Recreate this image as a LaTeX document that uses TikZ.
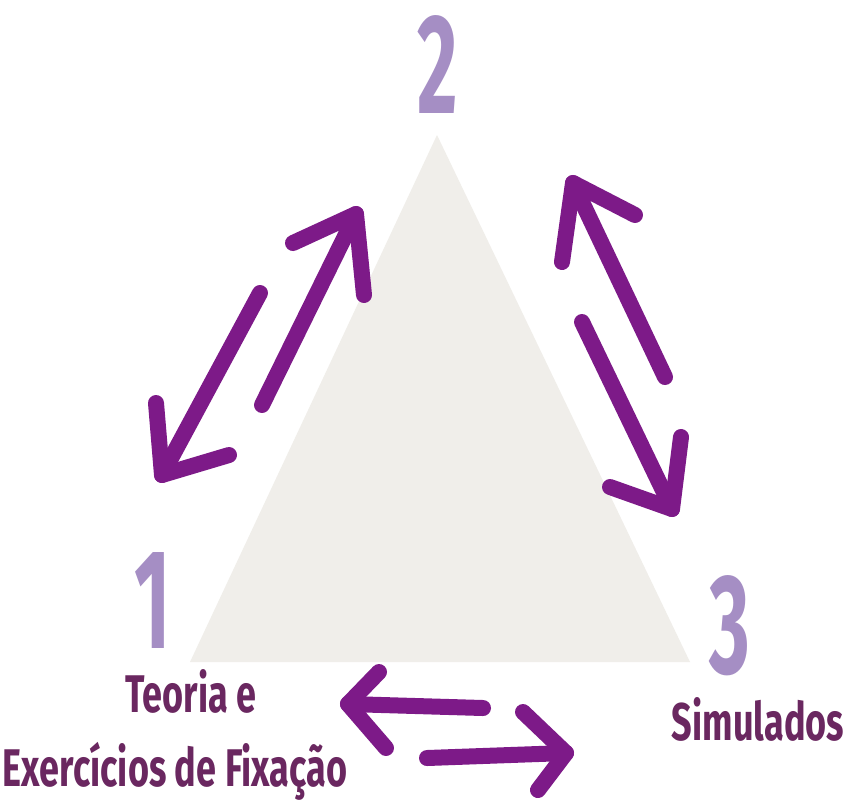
\documentclass[tikz,border=0pt]{standalone}
\usepackage{fontspec}
\newfontfamily\condfont[FakeStretch=0.68]{Fira Sans}
\newfontfamily\digfont[FakeStretch=0.55]{Fira Sans}
\definecolor{tri}{HTML}{F0EEEA}
\definecolor{dig}{HTML}{A58EC4}
\definecolor{lbl}{HTML}{6A2760}
\definecolor{arr}{HTML}{7D1A88}
\tikzset{
  digit/.style={inner sep=0pt, text=dig, font=\digfont\bfseries\fontsize{142}{142}\selectfont},
  label/.style={inner sep=0pt, anchor=base, text=lbl, font=\condfont\bfseries\fontsize{53}{53}\selectfont},
  arrline/.style={draw=arr, line width=16pt, line cap=round, line join=round}
}
\begin{document}
\begin{tikzpicture}[x=1pt,y=-1pt]
\useasboundingbox (0,0) rectangle (850,801);
\fill[white] (0,0) rectangle (850,801);
% triangle
\coordinate (apex) at (437,135);
\coordinate (bl) at (190,662);
\coordinate (br) at (690,662);
\fill[tri] (apex) -- (bl) -- (br) -- cycle;
% digits
\node[digit] (d2) at (438,65) {2};
\node[digit] (d1) at (153,600) {1};
\node[digit] (d3) at (730,626) {3};
% labels
\node[label] (t1) at (191,712) {Teoria e};
\node[label] (t2) at (175,786) {Exercícios de Fixação};
\node[label] (t3) at (758,740) {Simulados};
% arrows: left pair
\coordinate (aTail) at (262,405); \coordinate (aTip) at (356,214);
\coordinate (aA1) at (293,243); \coordinate (aA2) at (364,295);
\draw[arrline] (aTail) -- (aTip);
\draw[arrline] (aA1) -- (aTip) -- (aA2);
\coordinate (bTail) at (260,293); \coordinate (bTip) at (162,475);
\coordinate (bA1) at (156,403); \coordinate (bA2) at (229,455);
\draw[arrline] (bTail) -- (bTip);
\draw[arrline] (bA1) -- (bTip) -- (bA2);
% arrows: right pair
\coordinate (cTail) at (665,377); \coordinate (cTip) at (573,183);
\coordinate (cA1) at (562,262); \coordinate (cA2) at (635,215);
\draw[arrline] (cTail) -- (cTip);
\draw[arrline] (cA1) -- (cTip) -- (cA2);
\coordinate (dTail) at (582,322); \coordinate (dTip) at (672,509);
\coordinate (dA1) at (681,437); \coordinate (dA2) at (610,487);
\draw[arrline] (dTail) -- (dTip);
\draw[arrline] (dA1) -- (dTip) -- (dA2);
% arrows: bottom pair
\coordinate (eTail) at (483,708); \coordinate (eTip) at (348,704);
\coordinate (eA1) at (379,672); \coordinate (eA2) at (386,748);
\draw[arrline] (eTail) -- (eTip);
\draw[arrline] (eA1) -- (eTip) -- (eA2);
\coordinate (fTail) at (427,758); \coordinate (fTip) at (566,753);
\coordinate (fA1) at (523,712); \coordinate (fA2) at (538,790);
\draw[arrline] (fTail) -- (fTip);
\draw[arrline] (fA1) -- (fTip) -- (fA2);
\end{tikzpicture}
\end{document}
